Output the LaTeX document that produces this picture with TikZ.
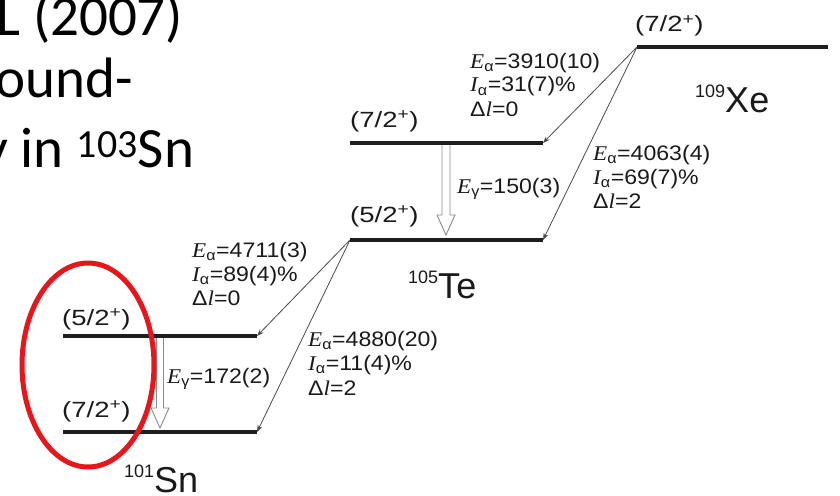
\documentclass[tikz,border=0pt]{standalone}
\usepackage{fontspec}
\setmainfont{Liberation Sans}
\newfontfamily\calib{Carlito}
\newfontfamily\serifit{Liberation Serif}
\usepackage{graphicx}
\usetikzlibrary{arrows.meta,calc}
\definecolor{lvl}{HTML}{1E1E1E}
\definecolor{agray}{HTML}{4A4A4A}
\definecolor{ggray}{HTML}{8A8A8A}
\definecolor{ellred}{RGB}{232,22,26}
\definecolor{txt}{HTML}{1A1A1A}
\tikzset{
 level/.style={draw=lvl,line width=4pt},
 alphaarr/.style={draw=agray,line width=0.8pt,-{Stealth[length=7pt,width=5pt]}},
 gam/.style={draw=ggray,fill=white,line width=0.9pt},
 lab/.style={inner sep=0pt,anchor=base west,text=txt,font=\fontsize{21}{24}\selectfont},
 spinlab/.style={inner sep=0pt,anchor=base west,text=txt,font=\fontsize{22}{24}\selectfont},
 nuc/.style={inner sep=0pt,anchor=base west,text=txt,font=\fontsize{36}{36}\selectfont},
 slide/.style={inner sep=0pt,anchor=base west,text=black,font=\calib\fontsize{57}{64}\selectfont},
 ring/.style={draw=ellred,line width=5pt},
}
\newcommand\spinl[1]{\scalebox{1.25}[1]{(#1\textsuperscript{+})}}
\newcommand\sx[1]{\scalebox{1.1}[1]{#1}}
\newcommand\nucl[2]{\raisebox{15pt}{\fontsize{18}{18}\selectfont #1}#2}
\newcommand\qsym[2]{{\serifit\itshape #1}\textsubscript{#2}}
\newcommand\ea{\qsym{E}{α}}
\newcommand\ia{\qsym{I}{α}}
\newcommand\eg{\qsym{E}{γ}}
\newcommand\dl{Δ{\serifit\itshape l}}
\begin{document}
\begin{tikzpicture}[x=1pt,y=-1pt]
\useasboundingbox (0,0) rectangle (840,495);
\clip (0,0) rectangle (840,495);

% slide text
\node[slide] (t1) at (-4,36) {L (2007)};
\node[slide] (t2) at (-5,97) {ound-};
\node[slide] (t3) at (-18,167) {y in \textsuperscript{103}Sn};

% level end points
\coordinate (xeL) at (637,47);  \coordinate (xeR) at (828,47);
\coordinate (te1L) at (350,143); \coordinate (te1R) at (543,143);
\coordinate (te0L) at (350,240); \coordinate (te0R) at (543,240);
\coordinate (sn1L) at (63,336);  \coordinate (sn1R) at (257,336);
\coordinate (sn0L) at (63,432);  \coordinate (sn0R) at (257,432);

% gamma arrows
\coordinate (g1t) at (446,145); \coordinate (g1b) at (446,235);
\draw[gam] ($(g1t)+(-4,0)$) -- ($(g1b)+(-4,-20)$) -- ($(g1b)+(-9,-20)$) -- (g1b)
  -- ($(g1b)+(9,-20)$) -- ($(g1b)+(4,-20)$) -- ($(g1t)+(4,0)$);
\coordinate (g2t) at (160,338); \coordinate (g2b) at (160,428);
\draw[gam] ($(g2t)+(-3.5,0)$) -- ($(g2b)+(-3.5,-20)$) -- ($(g2b)+(-9,-20)$) -- (g2b)
  -- ($(g2b)+(9,-20)$) -- ($(g2b)+(3.5,-20)$) -- ($(g2t)+(3.5,0)$);

% levels
\draw[level] (xeL) -- (xeR);
\draw[level] (te1L) -- (te1R);
\draw[level] (te0L) -- (te0R);
\draw[level] (sn1L) -- (sn1R);
\draw[level] (sn0L) -- (sn0R);

% alpha decays
\draw[alphaarr] (xeL) -- (te1R);
\draw[alphaarr] (xeL) -- (te0R);
\draw[alphaarr] (te0L) -- (sn1R);
\draw[alphaarr] (te0L) -- (sn0R);

% spin labels
\node[spinlab] (sxe) at (635,32) {\spinl{7/2}};
\node[spinlab] (ste1) at (350,127) {\spinl{7/2}};
\node[spinlab] (ste0) at (350,222) {\spinl{5/2}};
\node[spinlab] (ssn1) at (62,325) {\spinl{5/2}};
\node[spinlab] (ssn0) at (62,417) {\spinl{7/2}};

% nuclide names
\node[nuc] (nxe) at (695,112) {\nucl{109}{Xe}};
\node[nuc] (nte) at (408,298) {\nucl{105}{Te}};
\node[nuc] (nsn) at (124,492) {\nucl{101}{Sn}};

% alpha labels
\node[lab] (a1e) at (470,68)  {\sx{\ea=3910(10)}};
\node[lab] (a1i) at (470,92)  {\sx{\ia=31(7)\%}};
\node[lab] (a1l) at (470,116) {\sx{\dl=0}};

\node[lab] (a2e) at (593,160) {\sx{\ea=4063(4)}};
\node[lab] (a2i) at (593,184) {\sx{\ia=69(7)\%}};
\node[lab] (a2l) at (593,208) {\sx{\dl=2}};

\node[lab] (a3e) at (192,257) {\sx{\ea=4711(3)}};
\node[lab] (a3i) at (192,281) {\sx{\ia=89(4)\%}};
\node[lab] (a3l) at (192,305) {\sx{\dl=0}};

\node[lab] (a4e) at (308,346) {\sx{\ea=4880(20)}};
\node[lab] (a4i) at (308,370) {\sx{\ia=11(4)\%}};
\node[lab] (a4l) at (308,395) {\sx{\dl=2}};

% gamma labels
\node[lab] (gl1) at (457,193) {\sx{\eg=150(3)}};
\node[lab] (gl2) at (167,383) {\sx{\eg=172(2)}};

% red ring
\draw[ring] (88,365) ellipse [x radius=66, y radius=102];
\end{tikzpicture}
\end{document}
